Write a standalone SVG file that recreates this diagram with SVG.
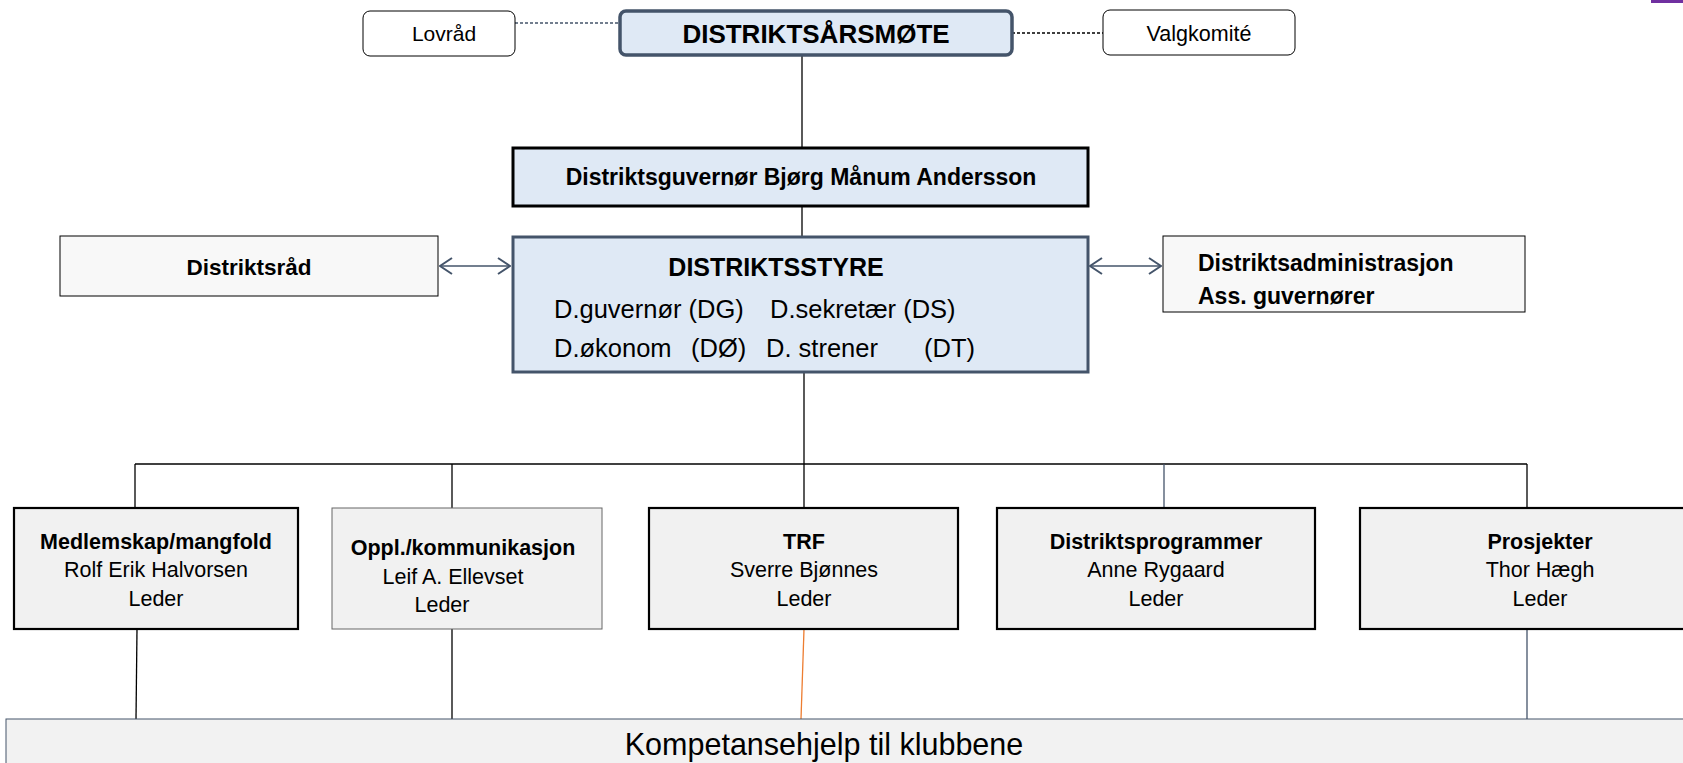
<svg xmlns="http://www.w3.org/2000/svg" width="1683" height="763" viewBox="0 0 1683 763">
<style>
text{font-family:"Liberation Sans",Arial,sans-serif;fill:#000}
.b{font-weight:bold}
.c{text-anchor:middle}
.ln{stroke:#000;stroke-width:1.3;fill:none}
.sl{stroke:#44546a;stroke-width:1.3;fill:none}
.small{fill:#fff;stroke:#000;stroke-width:1}
.blue{fill:#dfe9f5}
.grey{fill:#f1f1f1;stroke:#000;stroke-width:2.2}
.bx{font-size:21.5px}
.st{font-size:25.5px}
</style>
<defs>
<marker id="oa" viewBox="0 0 14 18" refX="13" refY="9" markerWidth="14" markerHeight="18" markerUnits="userSpaceOnUse" orient="auto-start-reverse">
<path d="M1,1 L13,9 L1,17" fill="none" stroke="#44546a" stroke-width="2"/>
</marker>
</defs>
<rect x="1651" y="0" width="32" height="3" fill="#7030a0"/>
<g id="connectors">
<line class="sl" x1="515" y1="23" x2="619" y2="23" stroke-dasharray="3,2"/>
<line class="ln" x1="1012" y1="33" x2="1103" y2="33" stroke-dasharray="3,2" stroke-width="1"/>
<line class="ln" x1="802" y1="55" x2="802" y2="147"/>
<line class="ln" x1="802" y1="206" x2="802" y2="236" stroke="#555"/>
<line class="sl" x1="440" y1="266" x2="510" y2="266" stroke-width="2" marker-start="url(#oa)" marker-end="url(#oa)"/>
<line class="sl" x1="1090" y1="266" x2="1161" y2="266" stroke-width="2" marker-start="url(#oa)" marker-end="url(#oa)"/>
<line class="ln" x1="804" y1="372" x2="804" y2="464" stroke="#555"/>
<line class="ln" x1="135" y1="464" x2="1527" y2="464" stroke-width="1.6"/>
<line class="ln" x1="135" y1="464" x2="135" y2="508"/>
<line class="ln" x1="452" y1="464" x2="452" y2="508"/>
<line class="ln" x1="804" y1="464" x2="804" y2="508"/>
<line class="sl" x1="1164" y1="464" x2="1164" y2="508"/>
<line class="ln" x1="1527" y1="464" x2="1527" y2="508"/>
<line class="ln" x1="137" y1="629" x2="136" y2="719"/>
<line class="ln" x1="452" y1="629" x2="452" y2="719"/>
<line x1="804" y1="629" x2="801" y2="719" stroke="#ed7d31" stroke-width="1.3"/>
<line class="sl" x1="1527" y1="629" x2="1527" y2="719"/>
</g>
<g id="lovrad">
<rect class="small" x="363" y="11" width="152" height="45" rx="7"/>
<text class="c" x="444" y="41" font-size="21">Lovråd</text>
</g>
<g id="arsmote">
<rect class="blue" x="620" y="11" width="392" height="44" rx="6" stroke="#44546a" stroke-width="3.5"/>
<text class="c b" x="816" y="43" font-size="26">DISTRIKTSÅRSMØTE</text>
</g>
<g id="valgkomite">
<rect class="small" x="1103" y="10" width="192" height="45" rx="7"/>
<text class="c" x="1199" y="41" font-size="21.5">Valgkomité</text>
</g>
<g id="guvernor">
<rect class="blue" x="513" y="148" width="575" height="58" stroke="#000" stroke-width="3"/>
<text class="c b" x="801" y="185" font-size="23">Distriktsguvernør Bjørg Månum Andersson</text>
</g>
<g id="styre">
<rect class="blue" x="513" y="237" width="575" height="135" stroke="#44546a" stroke-width="3"/>
<text class="c b" x="776" y="276" font-size="25">DISTRIKTSSTYRE</text>
<text class="st" x="554" y="318">D.guvernør (DG)</text>
<text class="st" x="770" y="318">D.sekretær (DS)</text>
<text class="st" x="554" y="357">D.økonom</text>
<text class="st" x="691" y="357">(DØ)</text>
<text class="st" x="766" y="357">D. strener</text>
<text class="st" x="924" y="357">(DT)</text>
</g>
<g id="distriktsrad">
<rect x="60" y="236" width="378" height="60" fill="#f8f8f8" stroke="#000" stroke-width="1"/>
<text class="c b" x="249" y="275" font-size="22.5">Distriktsråd</text>
</g>
<g id="administrasjon">
<rect x="1163" y="236" width="362" height="76" fill="#f8f8f8" stroke="#000" stroke-width="1"/>
<text class="b" x="1198" y="271" font-size="23">Distriktsadministrasjon</text>
<text class="b" x="1198" y="304" font-size="23">Ass. guvernører</text>
</g>
<g id="medlemskap">
<rect class="grey" x="14" y="508" width="284" height="121"/>
<text class="c b bx" x="156" y="549">Medlemskap/mangfold</text>
<text class="c bx" x="156" y="577">Rolf Erik Halvorsen</text>
<text class="c bx" x="156" y="606">Leder</text>
</g>
<g id="oppl">
<rect x="332" y="508" width="270" height="121" fill="#f1f1f1" stroke="#666" stroke-width="1"/>
<text class="c b bx" x="463" y="555">Oppl./kommunikasjon</text>
<text class="c bx" x="453" y="584">Leif A. Ellevset</text>
<text class="c bx" x="442" y="612">Leder</text>
</g>
<g id="trf">
<rect class="grey" x="649" y="508" width="309" height="121"/>
<text class="c b bx" x="804" y="549">TRF</text>
<text class="c bx" x="804" y="577">Sverre Bjønnes</text>
<text class="c bx" x="804" y="606">Leder</text>
</g>
<g id="programmer">
<rect class="grey" x="997" y="508" width="318" height="121"/>
<text class="c b bx" x="1156" y="549">Distriktsprogrammer</text>
<text class="c bx" x="1156" y="577">Anne Rygaard</text>
<text class="c bx" x="1156" y="606">Leder</text>
</g>
<g id="prosjekter">
<rect class="grey" x="1360" y="508" width="340" height="121"/>
<text class="c b bx" x="1540" y="549">Prosjekter</text>
<text class="c bx" x="1540" y="577">Thor Hægh</text>
<text class="c bx" x="1540" y="606">Leder</text>
</g>
<g id="kompetanse">
<rect x="6" y="719" width="1700" height="60" fill="#f2f2f2" stroke="#44546a" stroke-width="1"/>
<text class="c" x="824" y="755" font-size="30.5">Kompetansehjelp til klubbene</text>
</g>
</svg>
